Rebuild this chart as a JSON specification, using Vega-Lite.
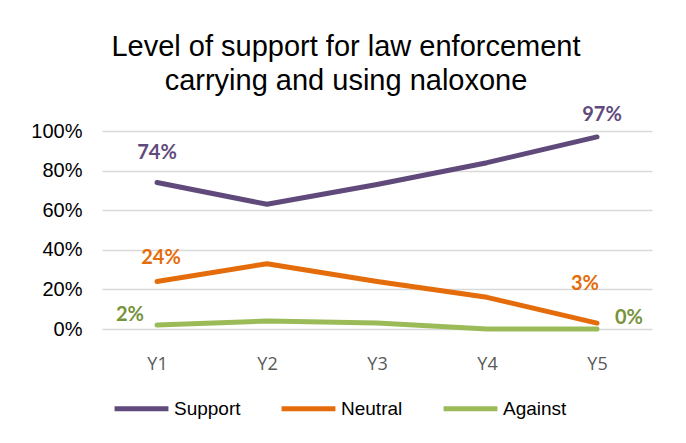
{
  "$schema": "https://vega.github.io/schema/vega-lite/v6.json",
  "width": 550,
  "height": 198,
  "autosize": {"type": "none"},
  "padding": {"left": 102, "top": 131, "right": 34, "bottom": 114},
  "background": "white",
  "config": {"view": {"stroke": null}},
  "title": {
    "text": ["Level of support for law enforcement", "carrying and using naloxone"],
    "font": "Liberation Sans",
    "fontSize": 29,
    "fontWeight": "normal",
    "color": "#000000",
    "anchor": "middle",
    "frame": "group",
    "dx": -31,
    "offset": 9,
    "lineHeight": 34
  },
  "data": {
    "values": [
      {"year": "Y1", "series": "Support", "value": 0.74},
      {"year": "Y2", "series": "Support", "value": 0.63},
      {"year": "Y3", "series": "Support", "value": 0.73},
      {"year": "Y4", "series": "Support", "value": 0.84},
      {"year": "Y5", "series": "Support", "value": 0.97},
      {"year": "Y1", "series": "Neutral", "value": 0.24},
      {"year": "Y2", "series": "Neutral", "value": 0.33},
      {"year": "Y3", "series": "Neutral", "value": 0.24},
      {"year": "Y4", "series": "Neutral", "value": 0.16},
      {"year": "Y5", "series": "Neutral", "value": 0.03},
      {"year": "Y1", "series": "Against", "value": 0.02},
      {"year": "Y2", "series": "Against", "value": 0.04},
      {"year": "Y3", "series": "Against", "value": 0.03},
      {"year": "Y4", "series": "Against", "value": 0.0},
      {"year": "Y5", "series": "Against", "value": 0.0}
    ]
  },
  "encoding": {
    "x": {
      "field": "year",
      "type": "ordinal",
      "scale": {"type": "point", "padding": 0.5},
      "axis": {
        "title": null,
        "labelAngle": 0,
        "labelFont": "Open Sans",
        "labelFontSize": 18,
        "labelColor": "#595959",
        "labelPadding": 26,
        "ticks": false,
        "domain": false,
        "grid": false
      }
    },
    "y": {
      "field": "value",
      "type": "quantitative",
      "scale": {"domain": [0, 1]},
      "axis": {
        "title": null,
        "format": ".0%",
        "values": [0, 0.2, 0.4, 0.6, 0.8, 1],
        "labelOverlap": false,
        "labelFont": "Liberation Sans",
        "labelFontSize": 20,
        "labelColor": "#000000",
        "labelPadding": 20,
        "ticks": false,
        "domain": false,
        "grid": true,
        "gridColor": "#d9d9d9",
        "gridWidth": 1.5
      }
    }
  },
  "layer": [
    {
      "mark": {"type": "line", "strokeWidth": 5, "strokeCap": "round", "strokeJoin": "round"},
      "encoding": {
        "color": {
          "field": "series",
          "type": "nominal",
          "scale": {"domain": ["Support", "Neutral", "Against"], "range": ["#604A7B", "#E46C0A", "#9BBB59"]},
          "legend": {
            "title": null,
            "orient": "none",
            "legendX": 10,
            "legendY": 248,
            "direction": "horizontal",
            "symbolType": "stroke",
            "symbolSize": 2900,
            "symbolStrokeWidth": 5,
            "labelFont": "Liberation Sans",
            "labelFontSize": 19,
            "labelColor": "#000000",
            "labelOffset": 3,
            "columnPadding": 30
          }
        }
      }
    },
    {
      "transform": [{"filter": "datum.series == 'Support' && datum.year == 'Y1'"}],
      "mark": {"type": "text", "font": "Lato", "fontWeight": "bold", "fontSize": 20, "color": "#604A7B", "dy": -29},
      "encoding": {"text": {"field": "value", "format": ".0%"}}
    },
    {
      "transform": [{"filter": "datum.series == 'Support' && datum.year == 'Y5'"}],
      "mark": {"type": "text", "font": "Lato", "fontWeight": "bold", "fontSize": 20, "color": "#604A7B", "dy": -22, "dx": 5},
      "encoding": {"text": {"field": "value", "format": ".0%"}}
    },
    {
      "transform": [{"filter": "datum.series == 'Neutral' && datum.year == 'Y1'"}],
      "mark": {"type": "text", "font": "Lato", "fontWeight": "bold", "fontSize": 20, "color": "#E46C0A", "dy": -23, "dx": 4},
      "encoding": {"text": {"field": "value", "format": ".0%"}}
    },
    {
      "transform": [{"filter": "datum.series == 'Neutral' && datum.year == 'Y5'"}],
      "mark": {"type": "text", "font": "Lato", "fontWeight": "bold", "fontSize": 20, "color": "#E46C0A", "dy": -39, "dx": -12},
      "encoding": {"text": {"field": "value", "format": ".0%"}}
    },
    {
      "transform": [{"filter": "datum.series == 'Against' && datum.year == 'Y1'"}],
      "mark": {"type": "text", "font": "Lato", "fontWeight": "bold", "fontSize": 20, "color": "#77933C", "dy": -10, "dx": -27},
      "encoding": {"text": {"field": "value", "format": ".0%"}}
    },
    {
      "transform": [{"filter": "datum.series == 'Against' && datum.year == 'Y5'"}],
      "mark": {"type": "text", "font": "Lato", "fontWeight": "bold", "fontSize": 20, "color": "#77933C", "dy": -11, "dx": 32},
      "encoding": {"text": {"field": "value", "format": ".0%"}}
    }
  ]
}
